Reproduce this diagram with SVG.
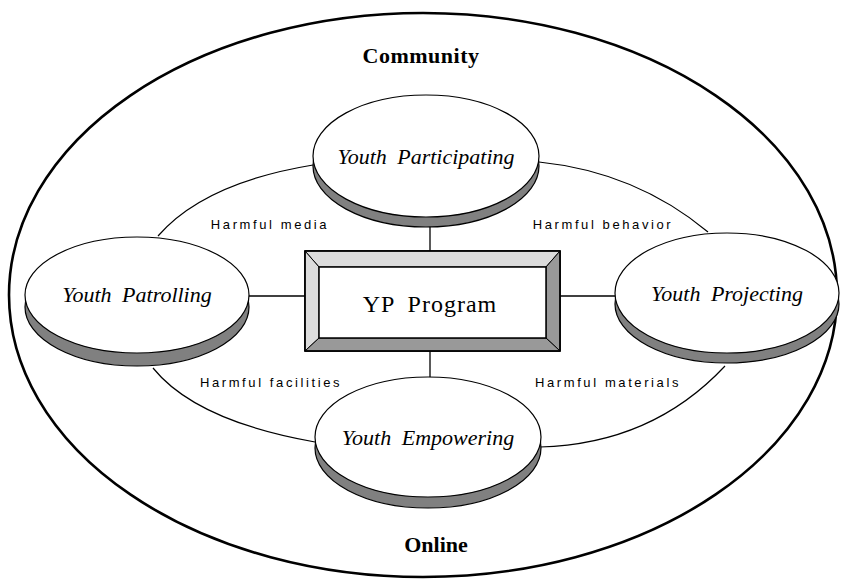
<svg xmlns="http://www.w3.org/2000/svg" width="841" height="581" viewBox="0 0 841 581">
<style>
.outer{fill:none;stroke:#000;stroke-width:2.6}
.arc{fill:none;stroke:#000;stroke-width:1.2}
.conn{fill:none;stroke:#000;stroke-width:1.3}
.shadow{fill:#808080;stroke:#000;stroke-width:1.2}
.face{fill:#fff;stroke:#000;stroke-width:1.2}
.ntext{font-family:"Liberation Serif","Times New Roman",serif;font-style:italic;font-size:22px;text-anchor:middle;word-spacing:5px}
.lbl{font-family:"Liberation Sans",Arial,sans-serif;font-size:13px;letter-spacing:2.6px;text-anchor:middle}
.ttl{font-family:"Liberation Serif","Times New Roman",serif;font-weight:bold;font-size:22px;text-anchor:middle}
</style>
<rect width="841" height="581" fill="#fff"/>
<ellipse class="outer" cx="423" cy="295" rx="414" ry="282"/>
<text class="ttl" x="421" y="63" letter-spacing="0.5">Community</text>
<text class="ttl" x="436" y="552">Online</text>
<g id="connectors">
<path class="arc" d="M158,236 Q204,183 313,165"/>
<path class="arc" d="M539,162 Q636,172 708,232"/>
<path class="arc" d="M153,368 Q196,421 315,442"/>
<path class="arc" d="M540,447 Q652,444 725,366"/>
<line class="conn" x1="430" y1="226" x2="430" y2="251"/>
<line class="conn" x1="430" y1="351" x2="430" y2="378"/>
<line class="conn" x1="249" y1="296" x2="305" y2="296"/>
<line class="conn" x1="560" y1="296" x2="615" y2="296"/>
<text class="lbl" x="270" y="229">Harmful media</text>
<text class="lbl" x="603" y="229">Harmful behavior</text>
<text class="lbl" x="271" y="387">Harmful facilities</text>
<text class="lbl" x="608" y="387">Harmful materials</text>
</g>
<g id="participating">
<ellipse class="shadow" cx="426" cy="166" rx="113" ry="61"/>
<ellipse class="face" cx="426" cy="156" rx="113" ry="61"/>
<text class="ntext" x="426" y="164">Youth Participating</text>
</g>
<g id="patrolling">
<ellipse class="shadow" cx="137" cy="307" rx="112" ry="59"/>
<ellipse class="face" cx="137" cy="295" rx="112" ry="58"/>
<text class="ntext" x="137" y="302">Youth Patrolling</text>
</g>
<g id="projecting">
<ellipse class="shadow" cx="727" cy="304" rx="112" ry="59"/>
<ellipse class="face" cx="727" cy="293" rx="112" ry="60"/>
<text class="ntext" x="727" y="301">Youth Projecting</text>
</g>
<g id="empowering">
<ellipse class="shadow" cx="428" cy="448" rx="113" ry="60"/>
<ellipse class="face" cx="428" cy="437" rx="113" ry="60"/>
<text class="ntext" x="428" y="445">Youth Empowering</text>
</g>
<g id="yp-program">
<rect x="305" y="251" width="255" height="100" fill="#fff" stroke="#000" stroke-width="1.3"/>
<polygon points="305,251 560,251 546,267 319,267" fill="#dcdcdc" stroke="#000" stroke-width="1"/>
<polygon points="305,251 319,267 319,338 305,351" fill="#dcdcdc" stroke="#000" stroke-width="1"/>
<polygon points="560,251 560,351 546,338 546,267" fill="#999" stroke="#000" stroke-width="1"/>
<polygon points="305,351 319,338 546,338 560,351" fill="#999" stroke="#000" stroke-width="1"/>
<rect x="319" y="267" width="227" height="71" fill="#fff" stroke="#000" stroke-width="1.5"/>
<rect x="305" y="251" width="255" height="100" fill="none" stroke="#000" stroke-width="1.6"/>
<text x="430" y="312" font-family="Liberation Serif,Times New Roman,serif" font-size="24" text-anchor="middle" letter-spacing="1" word-spacing="6">YP Program</text>
</g>
</svg>
